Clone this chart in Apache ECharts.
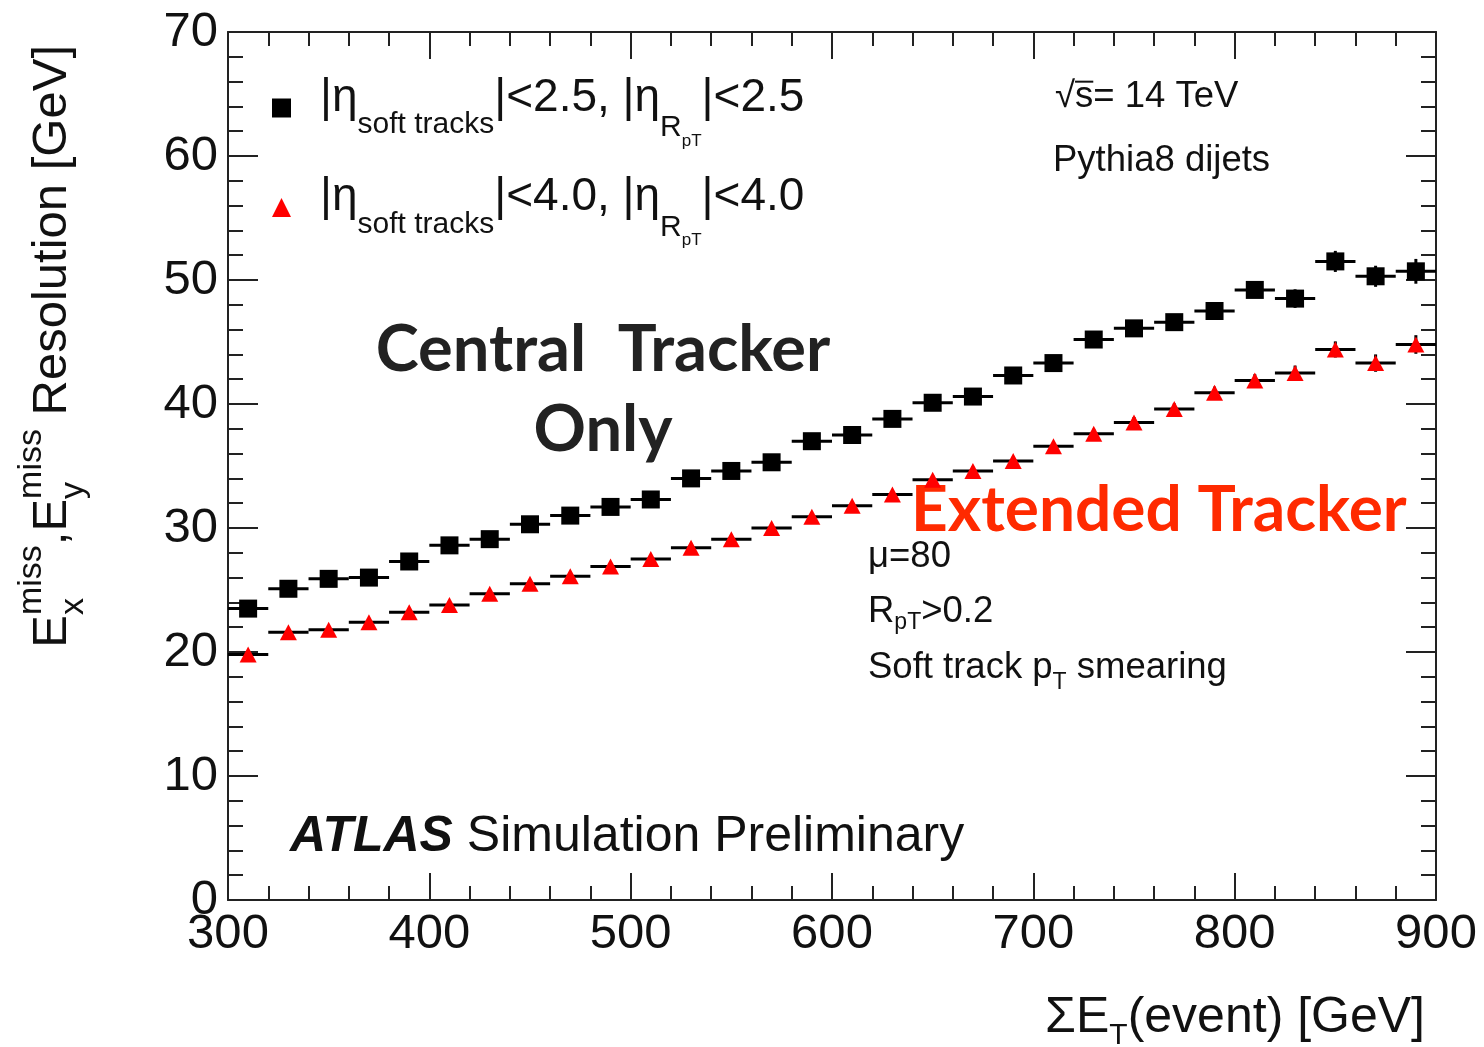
<!DOCTYPE html>
<html>
<head>
<meta charset="utf-8">
<script src="https://cdn.jsdelivr.net/npm/echarts@6/dist/echarts.min.js"></script>
<style>
  html, body { margin: 0; padding: 0; background: #ffffff; }
  #chart { width: 1484px; height: 1047px; }
</style>
</head>
<body>
<div id="chart"></div>
<script>
// ---- data: MET resolution vs. summed transverse energy, 20 GeV bins ----
const binCenters = [310, 330, 350, 370, 390, 410, 430, 450, 470, 490,
                    510, 530, 550, 570, 590, 610, 630, 650, 670, 690,
                    710, 730, 750, 770, 790, 810, 830, 850, 870, 890];
const binHalfWidth = 10;

// |eta| < 2.5 (central tracker only)
const centralRes = [23.5, 25.1, 25.9, 26.0, 27.3, 28.6, 29.1, 30.3, 31.0, 31.7,
                    32.3, 34.0, 34.6, 35.3, 37.0, 37.5, 38.8, 40.1, 40.6, 42.3,
                    43.3, 45.2, 46.1, 46.6, 47.5, 49.2, 48.5, 51.5, 50.3, 50.7];
const centralErr = [0.15, 0.15, 0.2, 0.2, 0.2, 0.2, 0.25, 0.25, 0.25, 0.3,
                    0.3, 0.3, 0.3, 0.35, 0.35, 0.35, 0.4, 0.4, 0.45, 0.45,
                    0.45, 0.5, 0.5, 0.55, 0.55, 0.6, 0.75, 0.85, 0.85, 1.0];

// |eta| < 4.0 (extended tracker)
const extendedRes = [19.8, 21.6, 21.8, 22.4, 23.2, 23.8, 24.7, 25.5, 26.1, 26.9,
                     27.5, 28.4, 29.1, 30.0, 30.9, 31.8, 32.7, 33.9, 34.6, 35.4,
                     36.6, 37.6, 38.5, 39.6, 40.9, 41.9, 42.5, 44.4, 43.3, 44.8];
const extendedErr = [0.1, 0.1, 0.15, 0.15, 0.15, 0.15, 0.2, 0.2, 0.2, 0.2,
                     0.25, 0.25, 0.25, 0.3, 0.3, 0.3, 0.3, 0.35, 0.35, 0.35,
                     0.4, 0.4, 0.45, 0.45, 0.5, 0.5, 0.6, 0.65, 0.7, 0.75];

// axis tick labels
const xTicks = [300, 400, 500, 600, 700, 800, 900];
const yTicks = [0, 10, 20, 30, 40, 50, 60, 70];

// ---- helpers ----
const BASE_FONT = 'Liberation Sans';
const measureCtx = document.createElement('canvas').getContext('2d');

function fontStr(p) {
  return (p.italic ? 'italic ' : '') + (p.bold ? 'bold ' : '') +
         p.size + 'px "' + (p.family || BASE_FONT) + '"';
}
function textWidth(p) {
  measureCtx.font = fontStr(p);
  return measureCtx.measureText(p.t).width;
}

// Lays out a run of text pieces (with sub/superscripts) as a graphic group.
// A piece marked "stack" shares its horizontal slot with the following piece.
function formula(pieces, opt) {
  let cx = 0, held = 0;
  const kids = [];
  pieces.forEach(function (p) {
    const w = textWidth(p);
    const dy = p.dy || 0;
    kids.push({
      type: 'text', x: cx, y: dy, silent: true,
      style: {
        text: p.t, font: fontStr(p), fill: p.color || opt.color || '#111',
        textAlign: 'left', textVerticalAlign: 'middle',
        align: 'left', verticalAlign: 'middle'
      }
    });
    if (p.over) {
      const top = dy - p.size * 0.42;
      kids.push({
        type: 'line', silent: true,
        shape: { x1: cx, y1: top, x2: cx + w, y2: top },
        style: { stroke: p.color || opt.color || '#111', lineWidth: 2 }
      });
    }
    if (p.stack) { held = Math.max(held, w); }
    else { cx += Math.max(w, held); held = 0; }
  });
  const shift = opt.align === 'right' ? -cx : (opt.align === 'center' ? -cx / 2 : 0);
  kids.forEach(function (k) {
    if (k.type === 'text') k.x += shift;
    else { k.shape.x1 += shift; k.shape.x2 += shift; }
  });
  return { type: 'group', x: opt.x, y: opt.y, rotation: opt.rotation || 0, children: kids };
}

function errorBars(values, errs, color) {
  return {
    type: 'custom',
    xAxisIndex: 0, yAxisIndex: 0,
    silent: true, z: 2,
    encode: { x: 0, y: 1 },
    data: binCenters.map(function (x, i) { return [x, values[i], errs[i]]; }),
    renderItem: function (params, api) {
      const x = api.value(0), y = api.value(1), e = api.value(2);
      const l = api.coord([x - binHalfWidth, y]);
      const r = api.coord([x + binHalfWidth, y]);
      const t = api.coord([x, y + e]);
      const b = api.coord([x, y - e]);
      return {
        type: 'group',
        children: [
          { type: 'line', shape: { x1: l[0], y1: l[1], x2: r[0], y2: r[1] },
            style: { stroke: color, lineWidth: 3 } },
          { type: 'line', shape: { x1: t[0], y1: t[1], x2: b[0], y2: b[1] },
            style: { stroke: color, lineWidth: 3 } }
        ]
      };
    }
  };
}

// ---- axes ----
const frame = '#222';
function xAxisDef(pos, labels) {
  return {
    type: 'value', position: pos,
    min: xTicks[0], max: xTicks[xTicks.length - 1], interval: xTicks[1] - xTicks[0],
    axisLine: { show: true, onZero: false, lineStyle: { color: frame, width: 2 } },
    axisTick: { show: true, inside: true, length: 27, lineStyle: { color: frame, width: 2 } },
    minorTick: { show: true, splitNumber: 5, length: 14, lineStyle: { color: frame, width: 2 } },
    splitLine: { show: false },
    axisLabel: { show: labels, fontSize: 49, fontFamily: BASE_FONT, color: '#111', margin: 10 }
  };
}
function yAxisDef(pos, labels) {
  return {
    type: 'value', position: pos,
    min: yTicks[0], max: yTicks[yTicks.length - 1], interval: yTicks[1] - yTicks[0],
    axisLine: { show: true, onZero: false, lineStyle: { color: frame, width: 2 } },
    axisTick: { show: true, inside: true, length: 30, lineStyle: { color: frame, width: 2 } },
    minorTick: { show: true, splitNumber: 5, length: 15, lineStyle: { color: frame, width: 2 } },
    splitLine: { show: false },
    axisLabel: { show: labels, fontSize: 49, fontFamily: BASE_FONT, color: '#111', margin: 10 }
  };
}

// ---- legend text with sub-/sub-subscripts ----
const legendLabels = {
  central:  '{lead||η}{s|soft tracks}{m||<2.5, |η}{r|R}{p|pT}{m||<2.5}',
  extended: '{lead||η}{s|soft tracks}{m||<4.0, |η}{r|R}{p|pT}{m||<4.0}'
};

// ---- annotations ----
const annotations = [
  // y-axis title (rotated, reads bottom to top)
  formula([
    { t: 'E', size: 49 },
    { t: 'miss', size: 34, dy: -20, stack: true },
    { t: 'x', size: 34, dy: 22 },
    { t: ',', size: 49 },
    { t: 'E', size: 49 },
    { t: 'miss', size: 34, dy: -20, stack: true },
    { t: 'y', size: 34, dy: 22 },
    { t: ' Resolution [GeV]', size: 49 }
  ], { x: 52, y: 45, rotation: Math.PI / 2, align: 'right' }),
  // x-axis title
  formula([
    { t: 'ΣE', size: 50 },
    { t: 'T', size: 30, dy: 18 },
    { t: '(event) [GeV]', size: 50 }
  ], { x: 1425, y: 1018, align: 'right' }),
  // collision energy and sample
  formula([
    { t: '√', size: 36.5 },
    { t: 's', size: 36.5, over: true },
    { t: '= 14 TeV', size: 36.5 }
  ], { x: 1055, y: 97 }),
  formula([{ t: 'Pythia8 dijets', size: 36.5 }], { x: 1053, y: 161 }),
  // selection details
  formula([{ t: 'μ=80', size: 36.5 }], { x: 868, y: 557 }),
  formula([
    { t: 'R', size: 36.5 },
    { t: 'pT', size: 23, dy: 11 },
    { t: '>0.2', size: 36.5 }
  ], { x: 868, y: 612 }),
  formula([
    { t: 'Soft track p', size: 36.5 },
    { t: 'T', size: 23, dy: 15 },
    { t: ' smearing', size: 36.5 }
  ], { x: 868, y: 668 }),
  // experiment label
  formula([
    { t: 'ATLAS', size: 50, bold: true, italic: true },
    { t: ' Simulation Preliminary', size: 50 }
  ], { x: 290, y: 837 }),
  // tracker labels
  formula([{ t: 'Central  Tracker', size: 65, bold: true, family: 'Lato', color: '#222' }],
          { x: 603, y: 350, align: 'center' }),
  formula([{ t: 'Only', size: 65, bold: true, family: 'Lato', color: '#222' }],
          { x: 603, y: 430, align: 'center' }),
  formula([{ t: 'Extended Tracker', size: 64, bold: true, family: 'Lato', color: '#ff2a00' }],
          { x: 911, y: 510 })
];

const chart = echarts.init(document.getElementById('chart'), null, { renderer: 'canvas' });
chart.setOption({
  animation: false,
  backgroundColor: '#ffffff',
  grid: { left: 228, top: 32, right: 48, bottom: 147, containLabel: false },
  xAxis: [xAxisDef('bottom', true), xAxisDef('top', false)],
  yAxis: [yAxisDef('left', true), yAxisDef('right', false)],
  legend: {
    left: 272, top: 75, padding: 0,
    orient: 'vertical', itemGap: 25,
    itemWidth: 19, itemHeight: 19,
    selectedMode: false,
    data: [{ name: 'central', icon: 'rect' }, { name: 'extended', icon: 'triangle' }],
    formatter: function (name) { return legendLabels[name]; },
    textStyle: {
      lineHeight: 60,
      rich: {
        lead: { fontSize: 46, fontFamily: BASE_FONT, color: '#111', padding: [0, 0, 20, 24] },
        m: { fontSize: 46, fontFamily: BASE_FONT, color: '#111', padding: [0, 0, 20, 0] },
        s: { fontSize: 30, fontFamily: BASE_FONT, color: '#111', padding: [34, 0, 0, 0] },
        r: { fontSize: 30, fontFamily: BASE_FONT, color: '#111', padding: [40, 0, 0, 0] },
        p: { fontSize: 17, fontFamily: BASE_FONT, color: '#111', padding: [66, 0, 0, 0] }
      }
    }
  },
  graphic: annotations,
  series: [
    errorBars(centralRes, centralErr, '#000'),
    errorBars(extendedRes, extendedErr, '#000'),
    {
      name: 'central', type: 'scatter', z: 3,
      symbol: 'rect', symbolSize: 18,
      itemStyle: { color: '#000', opacity: 1 },
      data: binCenters.map(function (x, i) { return [x, centralRes[i]]; })
    },
    {
      name: 'extended', type: 'scatter', z: 3,
      symbol: 'triangle', symbolSize: [17, 16],
      itemStyle: { color: '#ff0000', opacity: 1 },
      data: binCenters.map(function (x, i) { return [x, extendedRes[i]]; })
    }
  ]
});
</script>
</body>
</html>
